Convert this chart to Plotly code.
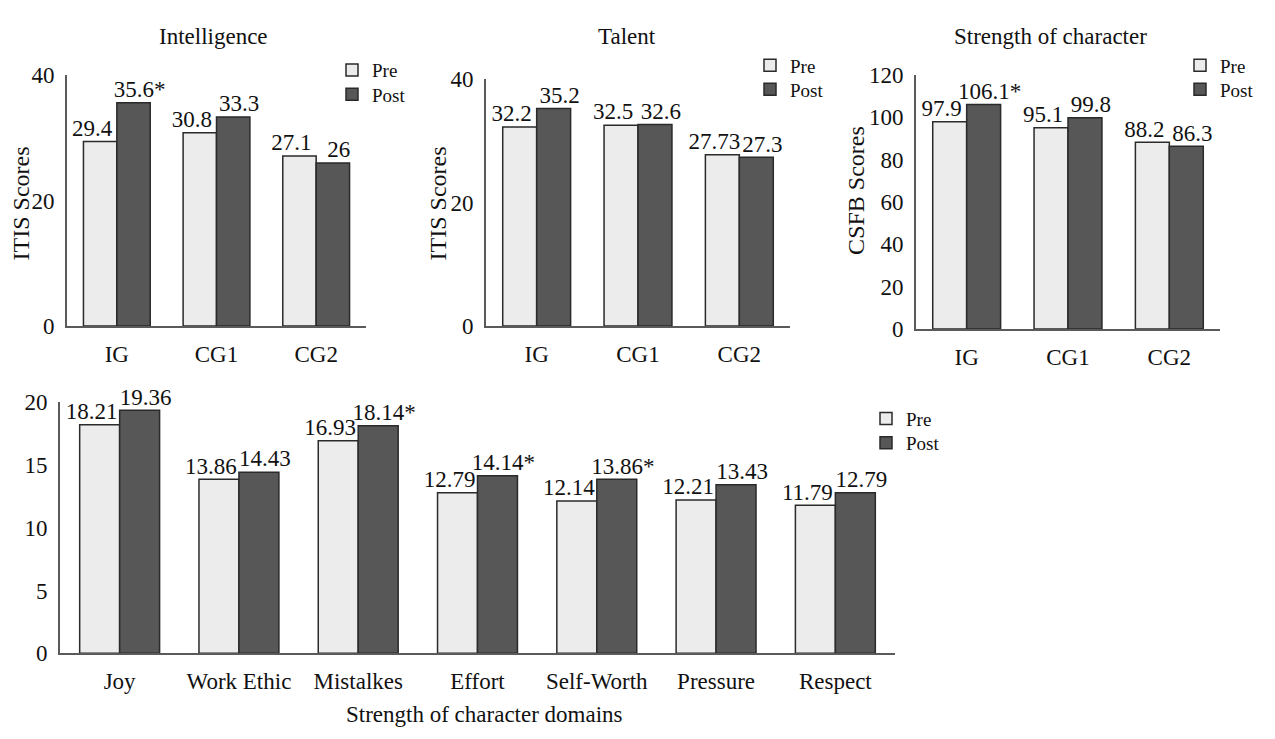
import plotly.graph_objects as go

FONT = "Liberation Serif, Times New Roman, serif"
PRE_COLOR = "#ececec"
POST_COLOR = "#575757"
EDGE = "#2a2a2a"
TXT = "#111"

groups = ["IG", "CG1", "CG2"]

intel_pre = [29.4, 30.8, 27.1]
intel_post = [35.6, 33.3, 26]
intel_sig = [True, False, False]

talent_pre = [32.2, 32.5, 27.73]
talent_post = [35.2, 32.6, 27.3]
talent_sig = [False, False, False]

char_pre = [97.9, 95.1, 88.2]
char_post = [106.1, 99.8, 86.3]
char_sig = [True, False, False]

domains = ["Joy", "Work Ethic", "Mistalkes", "Effort", "Self-Worth", "Pressure", "Respect"]
dom_pre = [18.21, 13.86, 16.93, 12.79, 12.14, 12.21, 11.79]
dom_post = [19.36, 14.43, 18.14, 14.14, 13.86, 13.43, 12.79]
dom_sig = [False, False, True, True, True, False, False]


def labels(vals, sig=None):
    out = []
    for i, v in enumerate(vals):
        s = f"{v:g}"
        if sig and sig[i]:
            s += "*"
        out.append(s)
    return out


# The page body has an 8px margin; size the figure so the full window is used.
OFF = 8
W, H = 1275 - 2 * OFF, 739 - 2 * OFF


def px_x(x):
    return (x - OFF) / W


def px_y(y):
    return 1 - (y - OFF) / H


BARGAP = 0.33
HALF = (1 - BARGAP) / 4  # offset of each bar centre from category centre

# panel geometry in screen pixels
geo = {
    "": dict(x0=67, x1=366, y0=325, y1=65, rng=[0, 40], dtick=20),
    "2": dict(x0=486, x1=790, y0=325, y1=69, rng=[0, 40], dtick=20),
    "3": dict(x0=916, x1=1220, y0=328, y1=65, rng=[0, 120], dtick=20),
    "4": dict(x0=60, x1=895, y0=664, y1=404, rng=[0, 20], dtick=5),
}

# one legend per entry: (legend id, text-left x, item centre y)
legend_pos = {
    "": (("legend", 372, 60), ("legend5", 372, 85)),
    "2": (("legend2", 790, 55), ("legend6", 790, 80)),
    "3": (("legend3", 1220, 55), ("legend7", 1220, 80)),
    "4": (("legend4", 906, 421), ("legend8", 906, 446)),
}

panels = [
    (groups, intel_pre, intel_post, intel_sig, ""),
    (groups, talent_pre, talent_post, talent_sig, "2"),
    (groups, char_pre, char_post, char_sig, "3"),
    (domains, dom_pre, dom_post, dom_sig, "4"),
]

fig = go.Figure()
for cats, pre, post, sig, k in panels:
    g = geo[k]
    n = len(cats)
    idx = list(range(n))
    unit_px = (g["x1"] - g["x0"]) / n
    pre_shift = 8 / unit_px
    post_shift = 6 / unit_px
    xa, ya = "x" + k, "y" + k
    lg_pre, lg_post = legend_pos[k][0][0], legend_pos[k][1][0]
    fig.add_trace(go.Bar(
        x=idx, y=pre, name="Pre",
        marker=dict(color=PRE_COLOR, line=dict(color=EDGE, width=1.5)),
        xaxis=xa, yaxis=ya, legend=lg_pre,
    ))
    fig.add_trace(go.Bar(
        x=idx, y=post, name="Post",
        marker=dict(color=POST_COLOR, line=dict(color=EDGE, width=1.5)),
        xaxis=xa, yaxis=ya, legend=lg_post,
    ))
    fig.add_trace(go.Scatter(
        x=[i - HALF - pre_shift for i in idx], y=pre, text=labels(pre),
        mode="text", textposition="top center", showlegend=False, hoverinfo="skip",
        textfont=dict(family=FONT, size=23, color=TXT), xaxis=xa, yaxis=ya, cliponaxis=False,
    ))
    fig.add_trace(go.Scatter(
        x=[i + HALF + post_shift for i in idx], y=post, text=labels(post, sig),
        mode="text", textposition="top center", showlegend=False, hoverinfo="skip",
        textfont=dict(family=FONT, size=23, color=TXT), xaxis=xa, yaxis=ya, cliponaxis=False,
    ))

axis_common = dict(showline=True, linecolor="#5a5a5a", linewidth=2, showgrid=False,
                   zeroline=False, ticks="outside", tickcolor="rgba(0,0,0,0)",
                   ticklen=6, fixedrange=True)

layout = dict(
    width=W, height=H, margin=dict(l=0, r=0, t=0, b=0),
    paper_bgcolor="white", plot_bgcolor="white",
    barmode="group", bargap=BARGAP, bargroupgap=0,
    font=dict(family=FONT, color=TXT),
    showlegend=True,
)

for cats, pre, post, sig, k in panels:
    g = geo[k]
    n = len(cats)
    xa = dict(axis_common)
    xa.update(domain=[px_x(g["x0"]), px_x(g["x1"])], anchor="y" + k,
              range=[-0.5, n - 0.5], tickmode="array",
              tickvals=list(range(n)), ticktext=cats,
              tickfont=dict(family=FONT, size=23, color=TXT))
    ya = dict(axis_common)
    ya.update(domain=[px_y(g["y0"]), px_y(g["y1"])], anchor="x" + k,
              range=g["rng"], dtick=g["dtick"],
              tickfont=dict(family=FONT, size=23, color=TXT))
    layout["xaxis" + k] = xa
    layout["yaxis" + k] = ya

legend_style = dict(font=dict(family=FONT, size=19, color=TXT), bgcolor="rgba(0,0,0,0)",
                    itemwidth=30, tracegroupgap=0, xanchor="left", yanchor="middle",
                    itemclick=False, itemdoubleclick=False)
for k, entries in legend_pos.items():
    for name, tx, cy in entries:
        d = dict(legend_style)
        d.update(x=px_x(tx - 40), y=px_y(cy))
        layout[name] = d

fig.update_layout(**layout)

annotations = [
    ("Intelligence", 213, 25),
    ("Talent", 627, 25),
    ("Strength of character", 1050, 25),
    ("Strength of character domains", 484, 727),
]
for t, x, y in annotations:
    fig.add_annotation(text=t, x=px_x(x), y=px_y(y), xref="paper", yref="paper",
                       showarrow=False, xanchor="center", yanchor="middle",
                       font=dict(family=FONT, size=23, color=TXT))

ytitles = [
    ("ITIS Scores", 21, 198),
    ("ITIS Scores", 438, 198),
    ("CSFB Scores", 856, 185),
]
for t, x, y in ytitles:
    fig.add_annotation(text=t, x=px_x(x), y=px_y(y), xref="paper", yref="paper",
                       showarrow=False, textangle=-90, xanchor="center", yanchor="middle",
                       font=dict(family=FONT, size=24, color=TXT))

fig.write_html("out.html")
